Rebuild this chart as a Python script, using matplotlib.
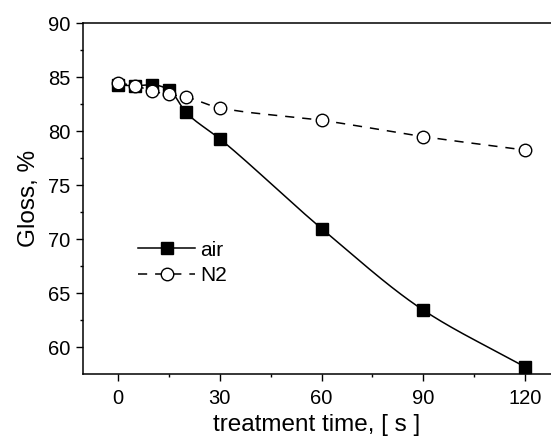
import numpy as np
import matplotlib
matplotlib.use("Agg")
import matplotlib.pyplot as plt
from matplotlib.ticker import MultipleLocator

plt.rcParams['font.family'] = ['Liberation Sans', 'DejaVu Sans']

# Gloss vs treatment time
time_air = [0, 5, 10, 15, 20, 30, 60, 90, 120]
gloss_air = [84.25, 84.2, 84.3, 83.85, 81.75, 79.3, 71.0, 63.45, 58.2]

time_n2 = [0, 5, 10, 15, 20, 30, 60, 90, 120]
gloss_n2 = [84.45, 84.22, 83.7, 83.4, 83.15, 82.15, 81.0, 79.5, 78.25]

x_ticks = [0, 30, 60, 90, 120]
y_ticks = [60, 65, 70, 75, 80, 85, 90]

DASH = (6, 5.2)


def pchip(x, y, n=400):
    """Monotone piecewise cubic Hermite curve through the points."""
    x = np.asarray(x, float)
    y = np.asarray(y, float)
    h = np.diff(x)
    delta = np.diff(y) / h
    k = len(x)
    m = np.zeros(k)
    for i in range(1, k - 1):
        if delta[i - 1] * delta[i] > 0:
            w1 = 2 * h[i] + h[i - 1]
            w2 = h[i] + 2 * h[i - 1]
            m[i] = (w1 + w2) / (w1 / delta[i - 1] + w2 / delta[i])
    m[0] = delta[0]
    m[-1] = delta[-1]
    xs = np.linspace(x[0], x[-1], n)
    idx = np.clip(np.searchsorted(x, xs) - 1, 0, k - 2)
    t = (xs - x[idx]) / h[idx]
    h00 = 2 * t**3 - 3 * t**2 + 1
    h10 = t**3 - 2 * t**2 + t
    h01 = -2 * t**3 + 3 * t**2
    h11 = t**3 - t**2
    ys = (h00 * y[idx] + h10 * h[idx] * m[idx]
          + h01 * y[idx + 1] + h11 * h[idx] * m[idx + 1])
    return xs, ys


fig = plt.figure(figsize=(5.51, 4.36), dpi=100)
ax = fig.add_axes([83 / 551, 1 - 374 / 436, (551 - 83) / 551, (374 - 23) / 436])

xs, ys = pchip(time_air, gloss_air)
ax.plot(xs, ys, color='black', lw=1.1, zorder=2)
xs2, ys2 = pchip(time_n2, gloss_n2)
ax.plot(xs2, ys2, color='black', lw=1.1, dashes=DASH, zorder=2)

ax.plot(time_air, gloss_air, ls='none', marker='s', ms=8, mfc='black',
        mec='black', zorder=3)
ax.plot(time_n2, gloss_n2, ls='none', marker='o', ms=9, mfc='white',
        mec='black', mew=1.0, zorder=4)

# legend proxies
h_air, = ax.plot([], [], color='black', lw=1.1, marker='s', ms=8,
                 mfc='black', mec='black')
h_n2, = ax.plot([], [], color='black', lw=1.1, dashes=DASH, marker='o',
                ms=9, mfc='white', mec='black')
ax.legend([h_air, h_n2], ['air', 'N2'], loc='upper left',
          bbox_to_anchor=(0.1175, 0.38), frameon=False, fontsize=15,
          handlelength=2.75, handletextpad=0.25, borderpad=0,
          borderaxespad=0, labelspacing=0.3)

ax.set_xlim(-10.3, 127.6)
ax.set_ylim(57.55, 90)
ax.set_xticks(x_ticks)
ax.set_yticks(y_ticks)
ax.xaxis.set_minor_locator(MultipleLocator(15))
ax.yaxis.set_minor_locator(MultipleLocator(2.5))
ax.tick_params(which='major', direction='out', length=5, width=1,
               labelsize=14.5, pad=4)
ax.tick_params(which='minor', direction='out', length=2.5, width=1)
ax.tick_params(axis='x', which='major', pad=6)
ax.spines['right'].set_visible(False)
for s in ('left', 'bottom', 'top'):
    ax.spines[s].set_linewidth(1.1)

ax.set_xlabel('treatment time, [ s ]', fontsize=17.5, labelpad=4)
ax.set_ylabel('Gloss, %', fontsize=17.5, labelpad=6)

fig.savefig('out.png', dpi=100)
